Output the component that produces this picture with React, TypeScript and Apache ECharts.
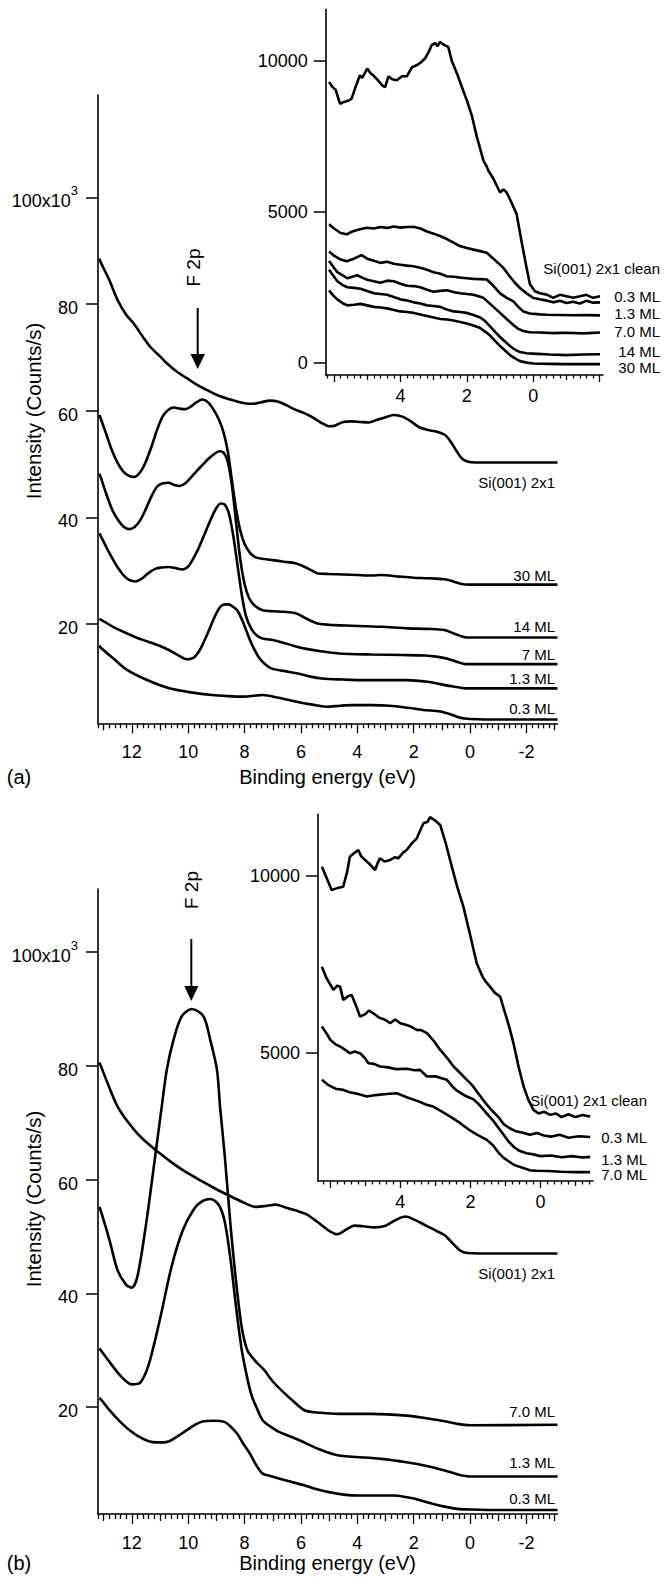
import React, { useEffect, useRef } from "react";
import * as echarts from "echarts";

type P = [number, number];

// ---------------- Panel (a) main: intensity (10^3 counts/s) vs binding energy (eV)
const aSi2x1: P[] = [[13.15,88.5],[13.1,87.8],[12.8,84.5],[12.5,80.7],[12.2,78],[11.94,76.4],[11.6,73.8],[11.35,72],[11.0,70.2],[10.76,68.9],[10.4,67.3],[10.05,66.1],[9.7,64.9],[9.34,63.9],[9.0,63.0],[8.63,62.3],[8.3,61.8],[8.0,61.4],[7.7,61.3],[7.4,61.6],[7.1,61.9],[6.8,61.7],[6.5,61.0],[6.2,60.2],[5.9,59.6],[5.6,58.8],[5.3,57.8],[5.0,57.1],[4.8,57.2],[4.5,57.9],[4.2,58.0],[3.9,57.9],[3.6,57.8],[3.3,58.3],[3.0,58.8],[2.7,59.2],[2.4,58.9],[2.1,58.0],[1.8,56.9],[1.5,56.4],[1.2,56.1],[0.9,55.5],[0.7,54.3],[0.5,52.6],[0.3,51.1],[0.1,50.5],[-0.2,50.3],[-1,50.3],[-2,50.3],[-3.1,50.3]];
const a30ML: P[] = [[13.15,59.2],[13.1,58.5],[12.9,55.5],[12.7,52.5],[12.5,50.2],[12.3,48.6],[12.1,47.8],[11.9,47.6],[11.7,48.5],[11.5,50.5],[11.3,53.3],[11.1,56.5],[10.9,59],[10.7,60.2],[10.5,60.6],[10.3,60.4],[10.1,60.3],[9.9,60.8],[9.7,61.6],[9.5,62.1],[9.3,61.6],[9.1,60.2],[8.9,58.2],[8.75,56],[8.6,52.5],[8.45,47],[8.3,41.5],[8.15,37.5],[8.0,35],[7.8,33.3],[7.6,32.5],[7.3,32.2],[7.0,32],[6.6,31.7],[6.2,31.4],[5.9,30.8],[5.6,30],[5.4,29.5],[5.0,29.4],[4.5,29.3],[4,29.2],[3.5,29.1],[3.16,29.2],[2.5,28.9],[2,28.7],[1.5,28.6],[0.91,28.4],[0.6,28],[0.3,27.5],[0,27.4],[-1,27.4],[-3.1,27.4]];
const a14ML: P[] = [[13.15,48.2],[13.1,47.5],[12.9,44.3],[12.7,41.5],[12.5,39.6],[12.3,38.3],[12.1,37.8],[11.9,38.2],[11.7,39.5],[11.5,41.6],[11.3,44],[11.1,45.8],[10.9,46.4],[10.7,46.5],[10.5,46.1],[10.3,45.9],[10.1,46.4],[9.9,47.5],[9.7,48.7],[9.5,49.8],[9.3,50.9],[9.1,51.8],[8.9,52.4],[8.75,52.2],[8.6,50.5],[8.45,46],[8.3,39],[8.15,32],[8.0,27.5],[7.85,25],[7.65,23.5],[7.36,22.6],[7.0,22.4],[6.6,22.3],[6.16,22],[5.8,21],[5.41,20.1],[4.8,19.8],[4.2,19.7],[3.16,19.5],[2.2,19.2],[1.5,19.1],[0.91,18.9],[0.6,18.3],[0.3,17.7],[0.15,17.5],[-1,17.5],[-3.1,17.5]];
const a7ML: P[] = [[13.15,37],[13.1,36.5],[12.9,34.4],[12.7,32.4],[12.5,30.6],[12.3,29.2],[12.1,28.3],[11.87,28],[11.65,28.5],[11.4,29.6],[11.15,30.4],[10.96,30.6],[10.7,30.7],[10.45,30.5],[10.2,30.25],[10.0,30.8],[9.85,32],[9.65,34],[9.45,36.5],[9.25,39],[9.05,41.3],[8.85,42.6],[8.7,42.4],[8.55,40.6],[8.4,36.5],[8.25,31],[8.1,25.5],[7.95,21.5],[7.75,19],[7.55,17.8],[7.36,17.3],[7.0,17],[6.76,16.7],[6.3,16],[5.86,15.4],[5.3,14.9],[4.66,14.5],[3.5,14.3],[2.41,14.2],[1.6,14.1],[1.2,13.9],[0.8,13.5],[0.45,12.9],[0.15,12.5],[-1,12.5],[-3.1,12.5]];
const a1p3ML: P[] = [[13.15,21],[13.07,20.75],[12.6,19.3],[12.17,18.25],[11.8,17.4],[11.42,16.7],[11.0,15.9],[10.67,15.1],[10.3,14],[10.06,13.4],[9.9,13.5],[9.76,13.9],[9.55,15.5],[9.31,18.25],[9.05,21.5],[8.86,23.25],[8.7,23.7],[8.56,23.7],[8.4,23.2],[8.26,22.6],[8.05,20.3],[7.81,17.0],[7.65,15.2],[7.51,13.9],[7.3,12.6],[7.06,11.7],[6.6,11.2],[6.16,10.8],[5.7,10.2],[5.26,9.8],[4.5,9.6],[3.91,9.5],[2.26,9.5],[1.5,9.2],[1.06,8.75],[0.6,8.3],[0.15,7.95],[-1,7.95],[-3.1,7.95]];
const a0p3ML: P[] = [[13.15,16],[13.11,15.6],[12.6,13.3],[12.17,11.4],[11.5,9.6],[10.67,7.95],[9.9,7.2],[9.16,6.7],[8.6,6.5],[8.04,6.4],[7.6,6.6],[7.36,6.7],[6.8,6.2],[6.16,5.45],[5.6,4.9],[5.11,4.5],[4.6,4.7],[4.21,4.8],[3.5,4.8],[2.86,4.7],[2.2,4.3],[1.66,3.9],[1.06,3.6],[0.7,3.1],[0.45,2.6],[0.2,2.3],[0,2.2],[-1,2.1],[-3.1,2.1]];

// ---------------- Panel (a) inset: counts/s vs binding energy (eV)
const aInClean: P[] = [[6.15,9310],[6.05,9150],[5.95,9050],[5.82,8590],[5.7,8650],[5.55,8700],[5.47,8757],[5.35,9150],[5.22,9533],[5.15,9450],[5.0,9757],[4.9,9600],[4.82,9533],[4.7,9400],[4.55,9200],[4.46,9143],[4.36,9500],[4.25,9400],[4.11,9367],[3.95,9500],[3.81,9500],[3.65,9800],[3.51,9867],[3.4,9950],[3.26,10090],[3.15,10300],[3.06,10533],[2.95,10600],[2.88,10500],[2.81,10643],[2.7,10550],[2.56,10477],[2.45,10000],[2.3,9600],[2.15,9143],[2.0,8700],[1.85,8200],[1.7,7500],[1.5,6700],[1.4,6500],[1.35,6367],[1.2,6100],[1.0,5643],[0.9,5750],[0.8,5643],[0.65,5300],[0.5,4923],[0.35,4000],[0.2,3143],[0.1,2600],[-0.05,2367],[-0.2,2300],[-0.41,2257],[-0.6,2150],[-0.8,2250],[-1.0,2200],[-1.2,2150],[-1.41,2200],[-1.6,2250],[-1.8,2150],[-2.01,2200]];
const aIn0p3: P[] = [[6.15,4590],[6.0,4450],[5.8,4300],[5.62,4257],[5.45,4350],[5.25,4420],[5.02,4477],[4.8,4450],[4.6,4500],[4.4,4470],[4.2,4520],[4.0,4480],[3.8,4500],[3.61,4510],[3.4,4450],[3.2,4350],[3.0,4280],[2.81,4200],[2.6,4100],[2.4,3980],[2.21,3867],[2.0,3800],[1.8,3750],[1.6,3700],[1.4,3643],[1.2,3450],[1.05,3300],[0.9,3143],[0.7,2850],[0.55,2650],[0.4,2477],[0.2,2300],[0.0,2143],[-0.2,2100],[-0.41,2057],[-0.6,2000],[-0.8,2050],[-1.0,1980],[-1.2,2020],[-1.4,1960],[-1.6,2050],[-1.8,1990],[-2.01,2000]];
const aIn1p3: P[] = [[6.15,3690],[6.0,3550],[5.8,3420],[5.62,3367],[5.4,3450],[5.17,3567],[5.0,3450],[4.8,3380],[4.61,3310],[4.4,3350],[4.2,3280],[4.0,3250],[3.8,3220],[3.61,3200],[3.4,3150],[3.2,3080],[3.0,3000],[2.8,2950],[2.61,2867],[2.4,2850],[2.2,2820],[2.0,2800],[1.8,2780],[1.6,2770],[1.4,2757],[1.2,2550],[1.0,2300],[0.8,2150],[0.6,2033],[0.45,1850],[0.3,1700],[0.1,1630],[-0.2,1600],[-0.41,1590],[-0.8,1580],[-1.2,1570],[-1.6,1575],[-2.01,1567]];
const aIn7p0: P[] = [[6.15,3370],[6.0,3150],[5.9,3000],[5.75,2900],[5.6,2800],[5.45,2850],[5.3,2900],[5.15,2820],[5.0,2750],[4.8,2700],[4.6,2650],[4.4,2720],[4.2,2700],[4.0,2620],[3.8,2550],[3.6,2540],[3.4,2500],[3.2,2420],[3.0,2350],[2.8,2380],[2.6,2400],[2.4,2340],[2.2,2300],[2.0,2280],[1.8,2250],[1.65,2200],[1.5,2150],[1.35,2000],[1.2,1850],[1.05,1700],[0.9,1550],[0.75,1400],[0.6,1250],[0.45,1120],[0.3,1050],[0.1,1010],[-0.2,1000],[-0.6,980],[-1.0,990],[-1.5,970],[-2.01,1000]];
const aIn14: P[] = [[6.15,3080],[6.0,2850],[5.9,2700],[5.75,2580],[5.6,2500],[5.4,2480],[5.2,2450],[5.0,2380],[4.8,2300],[4.6,2280],[4.4,2250],[4.2,2180],[4.0,2100],[3.8,2060],[3.6,2000],[3.4,1960],[3.2,1900],[3.0,1880],[2.8,1850],[2.6,1760],[2.4,1700],[2.2,1680],[2.0,1650],[1.8,1580],[1.6,1500],[1.45,1380],[1.3,1200],[1.15,1020],[1.0,850],[0.85,700],[0.7,550],[0.55,430],[0.4,350],[0.2,310],[0,300],[-0.5,270],[-1,250],[-1.5,270],[-2.01,280]];
const aIn30: P[] = [[6.15,2400],[6.0,2200],[5.9,2100],[5.75,1980],[5.6,1900],[5.4,1920],[5.2,1950],[5.0,1900],[4.8,1850],[4.6,1830],[4.4,1800],[4.2,1750],[4.0,1700],[3.8,1680],[3.6,1650],[3.4,1600],[3.2,1550],[3.0,1500],[2.8,1450],[2.6,1430],[2.4,1400],[2.2,1350],[2.0,1300],[1.8,1230],[1.6,1150],[1.45,1030],[1.3,900],[1.15,720],[1.0,550],[0.85,400],[0.7,250],[0.55,140],[0.4,50],[0.2,0],[0,-30],[-0.5,-40],[-1,-50],[-1.5,-45],[-2.01,-50]];

// ---------------- Panel (b) main
const bSi2x1: P[] = [[13.15,80.6],[13.1,80],[12.8,76.2],[12.5,72.8],[12.15,70.2],[11.8,68.1],[11.4,66.2],[11.0,64.6],[10.66,63.3],[10.2,61.7],[9.55,59.8],[9.0,58.3],[8.43,56.9],[8.0,55.9],[7.6,55.2],[7.2,55.4],[6.9,55.6],[6.6,55.2],[6.2,54.6],[5.8,53.9],[5.4,52.5],[5.0,51],[4.7,50.4],[4.4,51.2],[4.1,51.9],[3.8,51.8],[3.4,51.6],[3.0,51.9],[2.6,53],[2.3,53.5],[2.0,53],[1.6,52],[1.2,51],[0.9,50.2],[0.6,48.7],[0.35,47.5],[0.1,47.1],[-1,47],[-3.1,47]];
const b7p0ML: P[] = [[13.15,55.2],[13.1,54.5],[12.8,49.5],[12.5,44],[12.2,41.5],[12.0,41],[11.8,43],[11.5,52],[11.2,63],[10.94,72.8],[10.76,79.3],[10.52,84.6],[10.23,88.7],[9.87,90],[9.46,88.7],[9.22,84.6],[8.98,79.3],[8.87,72.8],[8.7,64],[8.5,52],[8.3,42],[8.1,34],[7.9,30],[7.6,28],[7.3,26.5],[7.0,24.5],[6.6,22.5],[6.31,21.2],[5.86,19.4],[5.3,19],[4.66,18.8],[3.5,18.8],[2.26,18.5],[1.5,18],[0.9,17.5],[0.4,17],[0,16.8],[-3.1,16.9]];
const b1p3ML: P[] = [[13.15,30.3],[13.1,30],[12.8,28],[12.4,25.5],[12.0,24],[11.7,24.3],[11.4,27.5],[11.0,35.5],[10.6,44.5],[10.2,51],[9.8,54.8],[9.5,56.2],[9.2,56.6],[8.9,55.4],[8.7,52.5],[8.5,46],[8.3,37.5],[8.1,30],[7.9,25],[7.75,22],[7.6,20.2],[7.36,17.7],[7.0,16.3],[6.76,15.6],[6.16,14.4],[5.26,12.4],[4.66,11.5],[3.16,10.9],[2.26,10.3],[1.5,9.6],[0.9,8.85],[0.4,8.1],[0,7.8],[-3.1,7.8]];
const b0p3ML: P[] = [[13.15,21.6],[13.07,21.2],[12.8,19.5],[12.47,17.7],[12.1,16],[11.72,14.7],[11.4,14],[11.12,13.8],[10.9,13.8],[10.67,14.0],[10.4,14.8],[10.06,15.9],[9.75,16.9],[9.46,17.5],[9.1,17.6],[8.72,17.4],[8.5,16.6],[8.26,15.3],[8.05,13.6],[7.81,11.8],[7.6,9.9],[7.36,8.3],[7.1,7.9],[6.76,7.4],[6.3,6.8],[5.86,6.2],[5.4,5.5],[4.96,5.0],[4.5,4.6],[3.91,4.45],[3.3,4.45],[2.71,4.45],[2.3,4.2],[1.96,3.9],[1.4,3.1],[0.9,2.5],[0.45,2.1],[0.0,2.0],[-1,1.9],[-3.1,1.9]];

// ---------------- Panel (b) inset
const bInClean: P[] = [[6.24,10253],[6.1,9927],[5.96,9597],[5.8,9650],[5.63,9690],[5.52,10100],[5.44,10535],[5.3,10650],[5.2,10723],[5.12,10550],[5.06,10490],[4.9,10350],[4.72,10160],[4.65,10350],[4.58,10490],[4.45,10400],[4.29,10442],[4.15,10520],[4.06,10490],[3.92,10650],[3.82,10723],[3.68,10900],[3.53,11053],[3.42,11300],[3.34,11475],[3.22,11520],[3.15,11650],[3.1,11616],[3.0,11550],[2.86,11427],[2.7,10900],[2.53,10253],[2.38,9700],[2.2,9127],[2.0,8300],[1.82,7534],[1.65,7150],[1.55,7000],[1.44,6875],[1.3,6700],[1.15,6594],[1.0,6100],[0.88,5700],[0.77,5282],[0.62,4600],[0.48,4061],[0.35,3700],[0.2,3404],[0.05,3300],[-0.1,3350],[-0.28,3264],[-0.45,3300],[-0.6,3200],[-0.8,3280],[-1.0,3200],[-1.2,3260],[-1.42,3216]];
const bIn0p3: P[] = [[6.24,7438],[6.1,7100],[5.91,6783],[5.8,6900],[5.72,6875],[5.63,6501],[5.5,6600],[5.39,6642],[5.25,6300],[5.15,6031],[5.0,6100],[4.9,6200],[4.77,6127],[4.6,6000],[4.45,5950],[4.29,5845],[4.15,5950],[4.0,5845],[3.85,5800],[3.7,5750],[3.53,5657],[3.4,5650],[3.24,5564],[3.05,5350],[2.86,5093],[2.65,4850],[2.48,4624],[2.3,4450],[2.1,4249],[1.95,4100],[1.8,3900],[1.65,3700],[1.53,3550],[1.35,3350],[1.2,3200],[1.05,3000],[0.9,2900],[0.7,2800],[0.5,2760],[0.3,2700],[0.1,2750],[-0.1,2680],[-0.3,2650],[-0.55,2700],[-0.8,2620],[-1.1,2660],[-1.42,2640]];
const bIn1p3: P[] = [[6.24,5750],[6.1,5550],[6.0,5375],[5.85,5250],[5.72,5188],[5.58,5100],[5.44,5000],[5.3,5050],[5.15,5000],[5.0,4850],[4.91,4718],[4.75,4700],[4.58,4624],[4.35,4600],[4.1,4550],[3.8,4560],[3.6,4520],[3.44,4530],[3.24,4342],[3.0,4350],[2.85,4300],[2.67,4250],[2.5,4050],[2.39,3950],[2.15,3800],[1.91,3700],[1.75,3550],[1.53,3300],[1.35,3100],[1.2,2900],[1.05,2700],[0.9,2500],[0.75,2350],[0.6,2250],[0.4,2180],[0.2,2150],[0,2100],[-0.3,2120],[-0.6,2070],[-0.9,2100],[-1.2,2060],[-1.42,2080]];
const bIn7p0: P[] = [[6.24,4249],[6.05,4100],[5.85,4000],[5.63,3967],[5.45,3900],[5.2,3850],[4.96,3779],[4.7,3820],[4.4,3850],[4.1,3873],[3.8,3750],[3.5,3650],[3.25,3550],[3.06,3498],[2.8,3350],[2.55,3200],[2.29,3029],[2.05,2850],[1.8,2700],[1.53,2559],[1.35,2400],[1.2,2200],[1.05,2050],[0.9,1950],[0.75,1850],[0.6,1800],[0.45,1750],[0.3,1700],[0.1,1690],[-0.2,1680],[-0.6,1660],[-1.0,1650],[-1.42,1650]];

// ---------------- tick labels
const mainXLabels = [12, 10, 8, 6, 4, 2, 0, -2];
const mainYLabels = [20, 40, 60, 80, 100];
const insetXLabels = [4, 2, 0];
const insetAYLabels = [0, 5000, 10000];
const insetBYLabels = [5000, 10000];

// ---------------- curve labels
const aMainNames = ["Si(001) 2x1", "30 ML", "14 ML", "7 ML", "1.3 ML", "0.3 ML"];
const aInsetNames = ["Si(001) 2x1 clean", "0.3 ML", "1.3 ML", "7.0 ML", "14 ML", "30 ML"];
const bMainNames = ["Si(001) 2x1", "7.0 ML", "1.3 ML", "0.3 ML"];
const bInsetNames = ["Si(001) 2x1 clean", "0.3 ML", "1.3 ML", "7.0 ML"];

const FONT = "'Liberation Sans', Arial, Helvetica, sans-serif";
const BLACK = "#000";

function tickSets(min: number, max: number) {
  const major: number[] = [], mid: number[] = [], minor: number[] = [];
  for (let k = Math.ceil(min * 5 - 1e-9); k <= Math.floor(max * 5 + 1e-9); k++) {
    const v = Math.round(k * 2) / 10;
    if (k % 10 === 0) major.push(v);
    else if (k % 5 === 0) mid.push(v);
    else minor.push(v);
  }
  return { major, mid, minor };
}

function makeX(grid: number, min: number, max: number, labels: number[], lens: number[], margin: number, fontSize: number) {
  const t = tickSets(min, max);
  const base: any = { type: "value", gridIndex: grid, min, max, inverse: true, position: "bottom", splitLine: { show: false }, axisPointer: { show: false } };
  const ls = { color: BLACK, width: 1.3 };
  return [
    { ...base, axisLine: { show: true, onZero: false, lineStyle: { color: BLACK, width: 1.6 } },
      axisTick: { show: true, customValues: t.major, length: lens[0], lineStyle: ls },
      axisLabel: { show: true, customValues: labels, margin, fontSize, color: BLACK, fontFamily: FONT, formatter: (v: number) => String(v) } },
    { ...base, axisLine: { show: false, onZero: false }, axisTick: { show: true, customValues: t.mid, length: lens[1], lineStyle: ls }, axisLabel: { show: false } },
    { ...base, axisLine: { show: false, onZero: false }, axisTick: { show: true, customValues: t.minor, length: lens[2], lineStyle: ls }, axisLabel: { show: false } },
  ];
}

function makeY(grid: number, min: number, max: number, labels: number[], margin: number, fmt: (v: number) => string, rich?: any) {
  return {
    type: "value", gridIndex: grid, min, max, position: "left", splitLine: { show: false }, axisPointer: { show: false },
    axisLine: { show: true, onZero: false, lineStyle: { color: BLACK, width: 1.6 } },
    axisTick: { show: true, customValues: labels, length: 12, lineStyle: { color: BLACK, width: 1.5 } },
    axisLabel: { show: true, customValues: labels, margin, fontSize: 18, color: BLACK, fontFamily: FONT, formatter: fmt, rich },
  };
}

function line(data: P[], xi: number, yi: number, smooth: number | boolean) {
  return { type: "line", xAxisIndex: xi, yAxisIndex: yi, data, showSymbol: false, symbol: "none", smooth, silent: true,
    lineStyle: { color: BLACK, width: 2.6 }, itemStyle: { color: BLACK }, emphasis: { disabled: true }, clip: true };
}

function txt(text: string, x: number, y: number, size: number, align: string, rotation = 0) {
  return { type: "text", x, y, rotation, silent: true,
    style: { text, x: 0, y: 0, fill: BLACK, font: `${size}px ${FONT}`, align, verticalAlign: "middle", textAlign: align, textVerticalAlign: "middle" } };
}

function labelColumn(names: string[], x: number, ys: number[]) {
  return names.map((n, i) => txt(n, x, ys[i], 15, "right"));
}

export default function App() {
  const ref = useRef<HTMLDivElement>(null);
  useEffect(() => {
    document.body.style.margin = "0";
    if (!ref.current) return;
    const chart = echarts.init(ref.current, undefined, { renderer: "svg" });
    const mainFmt = (v: number) => (v === 100 ? "{n|100x10}{s|3}" : `{n|${v}}`);
    const mainRich = {
      n: { fontSize: 18, fontFamily: FONT, color: BLACK, lineHeight: 26, verticalAlign: "bottom" },
      s: { fontSize: 13, fontFamily: FONT, color: BLACK, lineHeight: 10, verticalAlign: "top" },
    };
    const plainFmt = (v: number) => String(v);

    const xAxis = [
      ...makeX(0, -3.1, 13.2, mainXLabels, [10, 7, 5], 20, 18),
      ...makeX(1, -2.1, 6.25, insetXLabels, [7, 5, 3.5], 12, 18),
      ...makeX(2, -3.1, 13.2, mainXLabels, [10, 7, 5], 20, 18),
      ...makeX(3, -1.5, 6.35, insetXLabels, [7, 5, 3.5], 12, 18),
    ];
    const yAxis = [
      makeY(0, 1.4, 119.2, mainYLabels, 20, mainFmt, mainRich),
      makeY(1, -410, 11723, insetAYLabels, 18, plainFmt),
      makeY(2, 1.2, 111.1, mainYLabels, 20, mainFmt, mainRich),
      makeY(3, 1400, 11729, insetBYLabels, 18, plainFmt),
    ];
    const grid = [
      { left: 98, top: 95, width: 459.5, height: 628.3, outerBoundsMode: "none" },
      { left: 325.7, top: 9.3, width: 277.3, height: 365.7, outerBoundsMode: "none" },
      { left: 98, top: 889, width: 459.5, height: 625, outerBoundsMode: "none" },
      { left: 318, top: 814.3, width: 275, height: 366.7, outerBoundsMode: "none" },
    ];
    const series = [
      ...[aSi2x1, a30ML, a14ML, a7ML, a1p3ML, a0p3ML].map((d) => line(d, 0, 0, 0.3)),
      ...[aInClean, aIn0p3, aIn1p3, aIn7p0, aIn14, aIn30].map((d) => line(d, 3, 1, false)),
      ...[bSi2x1, b7p0ML, b1p3ML, b0p3ML].map((d) => line(d, 6, 2, 0.3)),
      ...[bInClean, bIn0p3, bIn1p3, bIn7p0].map((d) => line(d, 9, 3, false)),
    ];
    const graphic = [
      txt("Intensity (Counts/s)", 33, 411, 20.5, "center", Math.PI / 2),
      txt("Intensity (Counts/s)", 33, 1199, 20.5, "center", Math.PI / 2),
      txt("Binding energy (eV)", 327.6, 777, 20, "center"),
      txt("Binding energy (eV)", 327.6, 1563, 20, "center"),
      txt("(a)", 19, 777, 20, "center"),
      txt("(b)", 19, 1563, 20, "center"),
      txt("F 2p", 193.5, 267.5, 19, "center", Math.PI / 2),
      txt("F 2p", 191, 890, 19, "center", Math.PI / 2),
      { type: "line", silent: true, shape: { x1: 197.7, y1: 308, x2: 197.7, y2: 357 }, style: { stroke: BLACK, lineWidth: 2 } },
      { type: "polygon", silent: true, shape: { points: [[190.5, 354], [205, 354], [197.7, 369]] }, style: { fill: BLACK } },
      { type: "line", silent: true, shape: { x1: 191.3, y1: 939, x2: 191.3, y2: 988 }, style: { stroke: BLACK, lineWidth: 2 } },
      { type: "polygon", silent: true, shape: { points: [[184.3, 986], [198.3, 986], [191.3, 1001]] }, style: { fill: BLACK } },
      ...labelColumn(aMainNames, 555, [482, 575, 626.7, 654, 678, 708]),
      ...labelColumn(aInsetNames, 660, [268, 296, 313, 331, 351, 367]),
      ...labelColumn(bMainNames, 555, [1273, 1411.7, 1462.7, 1498.3]),
      ...labelColumn(bInsetNames, 647, [1100, 1137, 1159, 1174]),
    ];
    chart.setOption({ animation: false, backgroundColor: "#fff", grid, xAxis, yAxis, series, graphic });
    return () => chart.dispose();
  }, []);
  return <div ref={ref} style={{ width: 665, height: 1577 }} />;
}
